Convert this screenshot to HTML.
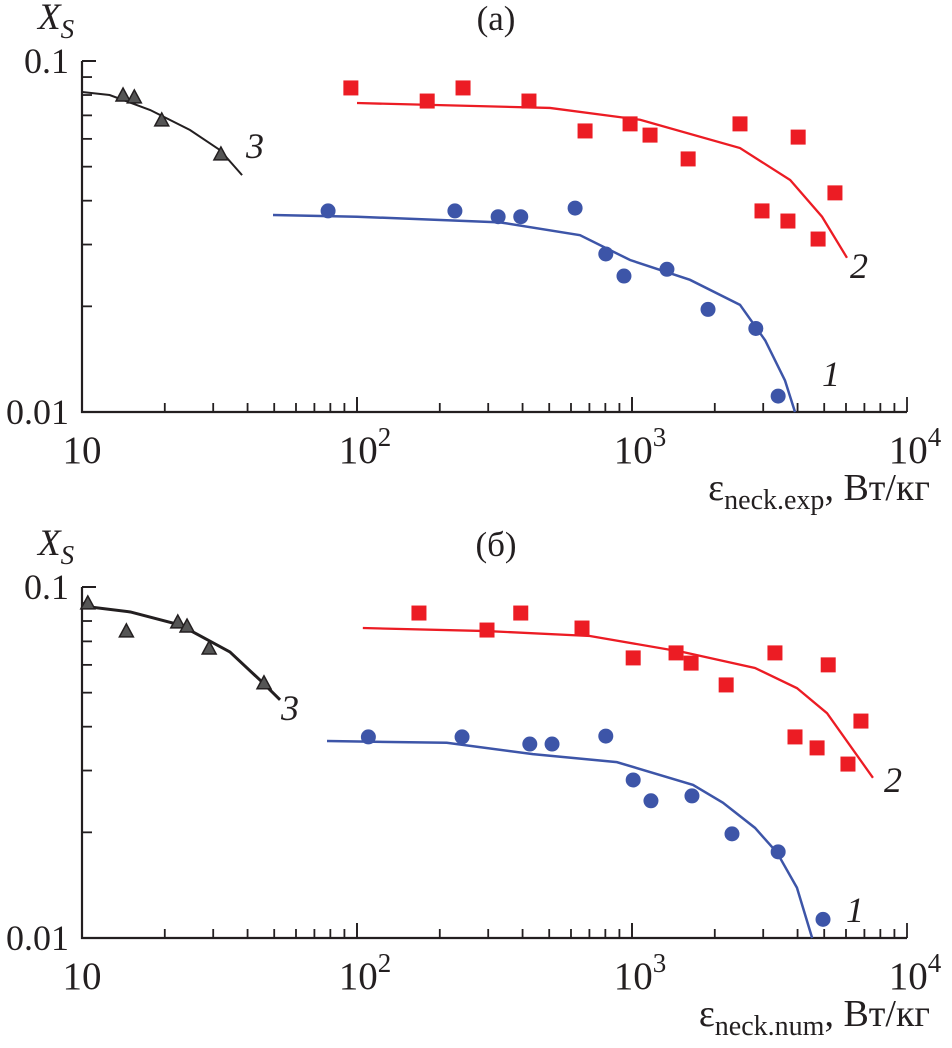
<!DOCTYPE html>
<html><head><meta charset="utf-8"><style>
html,body{margin:0;padding:0;background:#fff;}
svg{display:block;}
svg text{font-family:"Liberation Serif","DejaVu Serif",serif;}
</style></head><body>
<svg id="chart" width="952" height="1048" viewBox="0 0 952 1048" xmlns="http://www.w3.org/2000/svg" style="font-family:'Liberation Serif','DejaVu Serif',serif"></svg>
<script>
// Panel (a) data
const a_s1x=[78.5,227,326,394,621,803,935,1340,1890,2820,3400];
const a_s1y=[0.0374,0.0374,0.0360,0.0360,0.0381,0.0282,0.0244,0.0255,0.0196,0.0173,0.0111];
const a_l1x=[49.5,100,331,647,984,1625,2470,3050,3600,3915];
const a_l1y=[0.0364,0.0360,0.0347,0.0319,0.0271,0.0238,0.0202,0.0160,0.0123,0.0100];
const a_s2x=[95,180,243,422,675,984,1163,1600,2470,2970,3690,4020,4750,5470];
const a_s2y=[0.0838,0.0769,0.0838,0.0769,0.0632,0.0662,0.0615,0.0526,0.0662,0.0374,0.0350,0.0607,0.0311,0.0421];
const a_l2x=[100,503,1070,2470,3760,4910,6050];
const a_l2y=[0.0759,0.0735,0.0680,0.0565,0.0458,0.0360,0.0275];
const a_s3x=[14.1,15.5,19.5,32.0];
const a_s3y=[0.0795,0.0785,0.0675,0.054];
const a_l3x=[10,12.6,17.7,24.7,31.8,38.2];
const a_l3y=[0.0816,0.080,0.0725,0.0636,0.0557,0.0473];
// Panel (б) data
const b_s1x=[110,241,425,512,803,1010,1172,1652,2310,3400,4950];
const b_s1y=[0.0374,0.0374,0.0357,0.0357,0.0376,0.0282,0.0246,0.0254,0.0198,0.0176,0.0113];
const b_l1x=[77.8,212,436,881,1667,2140,2800,3370,3980,4520];
const b_l1y=[0.0364,0.0360,0.0334,0.0317,0.0273,0.0243,0.0206,0.0175,0.0139,0.0100];
const b_s2x=[168,297,394,658,1010,1446,1640,2200,3310,3915,4710,5170,6100,6800];
const b_s2y=[0.0843,0.0754,0.0843,0.0764,0.0628,0.0649,0.0607,0.0526,0.0649,0.0374,0.0348,0.060,0.0313,0.0415];
const b_l2x=[105,297,703,1530,2800,3980,5120,7520];
const b_l2y=[0.0764,0.0749,0.0725,0.0653,0.0588,0.0515,0.0437,0.0286];
const b_s3x=[10.5,14.5,22.3,24.1,29.0,45.9];
const b_s3y=[0.0895,0.0745,0.079,0.0769,0.0666,0.053];
const b_l3x=[10,15.0,22.7,34.5,44.4,52.5];
const b_l3y=[0.0883,0.0849,0.078,0.0653,0.0543,0.0477];
const xTickLabels=["10","2","3","4"];
const yTickLabels=["0.1","0.01"];

const NS="http://www.w3.org/2000/svg";
const svg=document.getElementById('chart');
function mk(tag,attrs,parent){const e=document.createElementNS(NS,tag);for(const k in attrs)e.setAttribute(k,attrs[k]);(parent||svg).appendChild(e);return e;}
const X0=82,X1=907,DEC=(X1-X0)/3;
const BLUE="#3d55a8",RED="#ec1c24",BLK="#231f20";

function txt(attrs,parent){attrs.fill=BLK;const e=mk('text',attrs,parent);e.style.fontFamily='"Liberation Serif", "DejaVu Serif", serif';return e;}

function panel(off,title,sub,d){
  const g=mk('g',{});
  
  
  const yT=61+off,yB=412+off,YD=yB-yT;
  const sx=v=>X0+(Math.log10(v)-1)*DEC;
  const sy=v=>yT+(-1-Math.log10(v))*YD;
  const ax=mk('path',{d:`M${X0},${yT} V${yB} H${X1}`,stroke:BLK,'stroke-width':2.2,fill:'none'},g);
  
  
  mk('line',{x1:X0,y1:yT,x2:X0+14,y2:yT,stroke:BLK,'stroke-width':2},g);
  for(let m=2;m<=9;m++){const y=sy(m/100);mk('line',{x1:X0,y1:y,x2:X0+10,y2:y,stroke:BLK,'stroke-width':1.8},g);}
  for(let dd=0;dd<3;dd++){for(let m=1;m<=10;m++){const x=sx(Math.pow(10,dd+1)*m);const major=(m===1||m===10);
    mk('line',{x1:x,y1:yB,x2:x,y2:yB-(major?15:9),stroke:BLK,'stroke-width':1.8},g);}}
  const yl1=txt({x:69,y:yT+12,'font-size':36,'text-anchor':'end'},g);yl1.textContent=yTickLabels[0];
  
  const yl2=txt({x:69,y:yB+12,'font-size':36,'text-anchor':'end'},g);yl2.textContent=yTickLabels[1];
  
  for(let i=0;i<4;i++){const x=X0+i*DEC;
    const t=txt({x:i===0?x:x+8,y:yB+51,'font-size':39,'text-anchor':'middle'},g);
    
    if(i===0){t.textContent=xTickLabels[0];}else{t.textContent='10';const s=mk('tspan',{dy:-17,'font-size':27},t);s.textContent=xTickLabels[i];}
  }
  const yt=txt({x:38,y:yT-32,'font-size':37,'font-style':'italic'},g);yt.textContent='X';
  
  const ys=mk('tspan',{dy:9,'font-size':27},yt);ys.textContent='S';
  const pt=txt({x:496,y:yT-31,'font-size':35,'text-anchor':'middle'},g);pt.textContent=title;
  
  const xt=txt({x:930,y:yB+88,'font-size':38,'text-anchor':'end'},g);
  
  const t1=mk('tspan',{},xt);t1.textContent='ε';
  const t2=mk('tspan',{dy:9,'font-size':28},xt);t2.textContent='neck.'+sub;
  const t3=mk('tspan',{dy:-9},xt);t3.textContent=', Вт/кг';
  const line=(xs,ys,c,w,name)=>{const p=mk('polyline',{points:xs.map((v,i)=>sx(v)+','+sy(ys[i])).join(' '),fill:'none',stroke:c,'stroke-width':w},g);
    };
  line(d.l1x,d.l1y,BLUE,2.5,'fit-line-1');
  line(d.l2x,d.l2y,RED,2.3,'fit-line-2');
  line(d.l3x,d.l3y,BLK,off?3:2,'fit-line-3');
  d.s1x.forEach((v,i)=>{const c=mk('circle',{cx:sx(v),cy:sy(d.s1y[i]),r:7.5,fill:BLUE},g);
    });
  d.s2x.forEach((v,i)=>{const r=mk('rect',{x:sx(v)-7.5,y:sy(d.s2y[i])-7.5,width:15,height:15,fill:RED},g);
    });
  d.s3x.forEach((v,i)=>{const x=sx(v),y=sy(d.s3y[i]);
    const p=mk('polygon',{points:`${x},${y-8} ${x-7},${y+5} ${x+7},${y+5}`,fill:'#555',stroke:BLK,'stroke-width':1.5},g);
    });
  d.labels.forEach(l=>{const t=txt({x:l[1],y:l[2]+off,'font-size':36,'font-style':'italic'},g);t.textContent=l[0];
    });
}
panel(0,'(a)','exp',{s1x:a_s1x,s1y:a_s1y,l1x:a_l1x,l1y:a_l1y,s2x:a_s2x,s2y:a_s2y,l2x:a_l2x,l2y:a_l2y,s3x:a_s3x,s3y:a_s3y,l3x:a_l3x,l3y:a_l3y,
  labels:[['1',822,386],['2',850,278],['3',246,158]]});
panel(526,'(б)','num',{s1x:b_s1x,s1y:b_s1y,l1x:b_l1x,l1y:b_l1y,s2x:b_s2x,s2y:b_s2y,l2x:b_l2x,l2y:b_l2y,s3x:b_s3x,s3y:b_s3y,l3x:b_l3x,l3y:b_l3y,
  labels:[['1',846,396],['2',884,266],['3',281,194]]});
</script>
</body></html>
